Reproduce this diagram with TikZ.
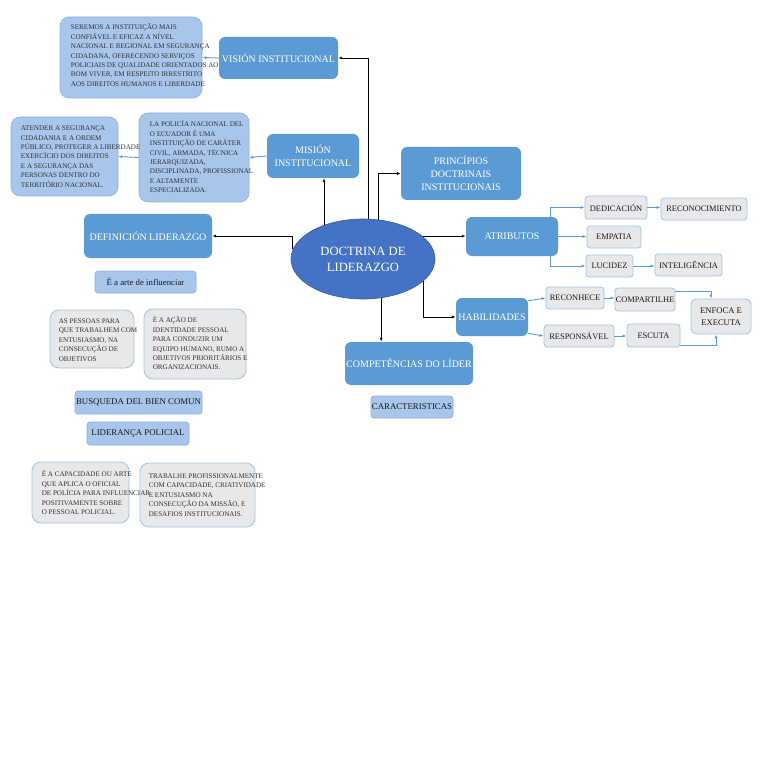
\documentclass[tikz,border=0pt]{standalone}
\usepackage{fontspec}
\setmainfont{Liberation Serif}
\usetikzlibrary{arrows.meta,shapes.geometric}

\definecolor{mainblue}{RGB}{91,155,213}
\definecolor{coreblue}{RGB}{68,114,196}
\definecolor{coreedge}{RGB}{52,90,160}
\definecolor{paleblue}{RGB}{168,197,235}
\definecolor{paleedge}{RGB}{140,176,226}
\definecolor{softgray}{RGB}{232,232,232}
\definecolor{softedge}{RGB}{160,196,232}
\definecolor{inktext}{RGB}{50,50,50}

\tikzset{
  mainbox/.style={rectangle, rounded corners=6pt, fill=mainblue, text=white,
    font=\fontsize{10}{13}\selectfont, align=center, inner sep=1pt},
  palebox/.style={rectangle, rounded corners=9pt, fill=paleblue, draw=paleedge, line width=0.6pt},
  graybox/.style={rectangle, rounded corners=9pt, fill=softgray, draw=softedge, line width=0.8pt},
  paletag/.style={rectangle, rounded corners=3pt, fill=paleblue, draw=paleedge, line width=0.6pt,
    font=\fontsize{8.8}{10}\selectfont, text=black!90, inner sep=0.5pt},
  graytag/.style={rectangle, rounded corners=3pt, fill=softgray, draw=softedge, line width=0.8pt,
    font=\fontsize{8.4}{10}\selectfont, text=black!90, inner sep=0.5pt, align=center},
  bodytext/.style={font=\fontsize{7.1}{9.4}\selectfont, text=inktext, align=left, inner sep=0pt},
  mainlink/.style={-{Latex[length=4pt,width=3pt]}, line width=0.9pt, black},
  sidelink/.style={-{Latex[length=4pt,width=3pt]}, line width=0.9pt, mainblue}
}

\begin{document}
\begin{tikzpicture}[x=1pt,y=-1pt]
  \fill[white] (0,0) rectangle (768,762);
  \useasboundingbox (0,0) rectangle (768,762);

  % centre
  \node[ellipse, fill=coreblue, draw=coreedge, line width=0.6pt, minimum width=144, minimum height=80,
    text=white, font=\fontsize{12.6}{16}\selectfont, align=center] (core) at (363,259) {DOCTRINA DE\\LIDERAZGO};

  % main branches
  \node[mainbox, minimum width=119, minimum height=42] (vision) at (278.5,58) {VISIÓN INSTITUCIONAL};
  \node[mainbox, minimum width=92, minimum height=44] (mision) at (313,156) {MISIÓN\\INSTITUCIONAL};
  \node[mainbox, minimum width=128, minimum height=44] (definicion) at (148,236) {DEFINICIÓN LIDERAZGO};
  \node[mainbox, minimum width=120, minimum height=53] (principios) at (461,173.5) {PRINCÍPIOS\\DOCTRINAIS\\INSTITUCIONAIS};
  \node[mainbox, minimum width=92, minimum height=39] (atributos) at (512,236.5) {ATRIBUTOS};
  \node[mainbox, minimum width=72, minimum height=38] (habilidades) at (492,317) {HABILIDADES};
  \node[mainbox, minimum width=128, minimum height=43] (competencias) at (409,363.5) {COMPETÊNCIAS DO LÍDER};

  % text boxes on the left
  \node[palebox, minimum width=142, minimum height=81] (visionText) at (131,57.5) {};
  \node[bodytext, anchor=north west] (visionBody) at ([shift={(11,7)}]visionText.north west)
    {SEREMOS A INSTITUIÇÃO MAIS\\CONFIÁVEL E EFICAZ A NÍVEL\\NACIONAL E REGIONAL EM SEGURANÇA\\CIDADANA, OFERECENDO SERVIÇOS\\POLICIAIS DE QUALIDADE ORIENTADOS AO\\BOM VIVER, EM RESPEITO IRRESTRITO\\AOS DIREITOS HUMANOS E LIBERDADE};

  \node[palebox, minimum width=110, minimum height=89] (misionText) at (194,157.5) {};
  \node[bodytext, anchor=north west] (misionBody) at ([shift={(11,8)}]misionText.north west)
    {LA POLICÍA NACIONAL DEL\\O ECUADOR É UMA\\INSTITUIÇÃO DE CARÁTER\\CIVIL, ARMADA, TÉCNICA\\JERARQUIZADA,\\DISCIPLINADA, PROFISSIONAL\\E ALTAMENTE\\ESPECIALIZADA.};

  \node[palebox, minimum width=107, minimum height=79] (atenderText) at (64.5,156.5) {};
  \node[bodytext, anchor=north west] (atenderBody) at ([shift={(10,9)}]atenderText.north west)
    {ATENDER A SEGURANÇA\\CIDADANIA E A ORDEM\\PÚBLICO, PROTEGER A LIBERDADE\\EXERCÍCIO DOS DIREITOS\\E A SEGURANÇA DAS\\PERSONAS DENTRO DO\\TERRITÓRIO NACIONAL.};

  \node[paletag, minimum width=101, minimum height=22] (arte) at (145.5,282) {É a arte de influenciar};

  \node[graybox, minimum width=84, minimum height=58] (pessoas) at (92,339) {};
  \node[bodytext, anchor=north west] (pessoasBody) at ([shift={(9,9)}]pessoas.north west)
    {AS PESSOAS PARA\\QUE TRABALHEM COM\\ENTUSIASMO, NA\\CONSECUÇÃO DE\\OBJETIVOS};

  \node[graybox, minimum width=102, minimum height=70] (acao) at (195,344) {};
  \node[bodytext, anchor=north west] (acaoBody) at ([shift={(9,8)}]acao.north west)
    {É A AÇÃO DE\\IDENTIDADE PESSOAL\\PARA CONDUZIR UM\\EQUIPO HUMANO, RUMO A\\OBJETIVOS PRIORITÁRIOS E\\ORGANIZACIONAIS.};

  \node[paletag, minimum width=127, minimum height=23] (busqueda) at (138.5,402.5) {BUSQUEDA DEL BIEN COMUN};
  \node[paletag, minimum width=102, minimum height=23] (lideranca) at (138,433.5) {LIDERANÇA POLICIAL};

  \node[graybox, minimum width=97, minimum height=61] (capacidade) at (80.5,492.5) {};
  \node[graybox, minimum width=115, minimum height=64] (trabalhe) at (197.5,495) {};
  \node[bodytext, anchor=north west] (capacidadeBody) at ([shift={(10,9)}]capacidade.north west)
    {É A CAPACIDADE OU ARTE\\QUE APLICA O OFICIAL\\DE POLÍCIA PARA INFLUENCIAR\\POSITIVAMENTE SOBRE\\O PESSOAL POLICIAL.};
  \node[bodytext, anchor=north west] (trabalheBody) at ([shift={(9,11)}]trabalhe.north west)
    {TRABALHE PROFISSIONALMENTE\\COM CAPACIDADE, CRIATIVIDADE\\E ENTUSIASMO NA\\CONSECUÇÃO DA MISSÃO, E\\DESAFIOS INSTITUCIONAIS.};

  \node[paletag, minimum width=82, minimum height=22] (caracteristicas) at (412,407) {CARACTERISTICAS};

  % attributes
  \node[graytag, minimum width=62, minimum height=23] (dedicacion) at (616,207.5) {DEDICACIÓN};
  \node[graytag, minimum width=86, minimum height=22] (reconocimiento) at (704,209) {RECONOCIMIENTO};
  \node[graytag, minimum width=54, minimum height=22] (empatia) at (614,237) {EMPATIA};
  \node[graytag, minimum width=47, minimum height=22] (lucidez) at (609.5,266) {LUCIDEZ};
  \node[graytag, minimum width=67, minimum height=22] (inteligencia) at (688.5,265) {INTELIGÊNCIA};

  % skills
  \node[graytag, minimum width=58, minimum height=22] (reconhece) at (575,298) {RECONHECE};
  \node[graytag, minimum width=60, minimum height=23] (compartilhe) at (645,299.5) {COMPARTILHE};
  \node[graytag, minimum width=70, minimum height=22] (responsavel) at (579,336) {RESPONSÁVEL};
  \node[graytag, minimum width=53, minimum height=23] (escuta) at (653.5,335.5) {ESCUTA};
  \node[graytag, rounded corners=5pt, minimum width=60, minimum height=35, font=\fontsize{8.6}{12}\selectfont]
    (enfoca) at (721,316.5) {ENFOCA E\\EXECUTA};

  % black connectors from the centre
  \draw[mainlink] ([xshift=5pt]core.north) |- (vision.east);
  \draw[mainlink] (core.139) -- (core.139 |- mision.south);
  \draw[mainlink] (core.172) |- (definicion.east);
  \draw[mainlink] (core.68) |- (principios.west);
  \draw[mainlink] (core.21) -- (core.21 -| atributos.west);
  \draw[mainlink] (core.-20) |- (habilidades.west);
  \draw[mainlink] (core.-65) -- (core.-65 |- competencias.north);

  % blue connectors
  \draw[sidelink] (vision.west) -- (visionText.east);
  \draw[sidelink] (mision.west) -- (misionText.east);
  \draw[sidelink] (misionText.west) -- (atenderText.east);
  \draw[sidelink] ([xshift=-8pt]atributos.north east) |- (dedicacion.west);
  \draw[sidelink] (atributos.east) -- (atributos.east -| empatia.west);
  \draw[sidelink] ([xshift=-8pt]atributos.south east) |- (lucidez.west);
  \draw[sidelink] (dedicacion.east) -- (dedicacion.east -| reconocimiento.west);
  \draw[sidelink] (lucidez.east) -- (lucidez.east -| inteligencia.west);
  \draw[sidelink] ([yshift=-3pt]habilidades.north east) -- (reconhece.west);
  \draw[sidelink] ([yshift=3pt]habilidades.south east) -- (responsavel.west);
  \draw[sidelink] (reconhece.east) -- (reconhece.east -| compartilhe.west);
  \draw[sidelink] (responsavel.east) -- (responsavel.east -| escuta.west);
  \draw[sidelink] ([yshift=-4pt]compartilhe.north east) -| ([xshift=-10pt]enfoca.north);
  \draw[sidelink] ([yshift=2pt]escuta.south east) -| ([xshift=-5pt]enfoca.south);
\end{tikzpicture}
\end{document}
